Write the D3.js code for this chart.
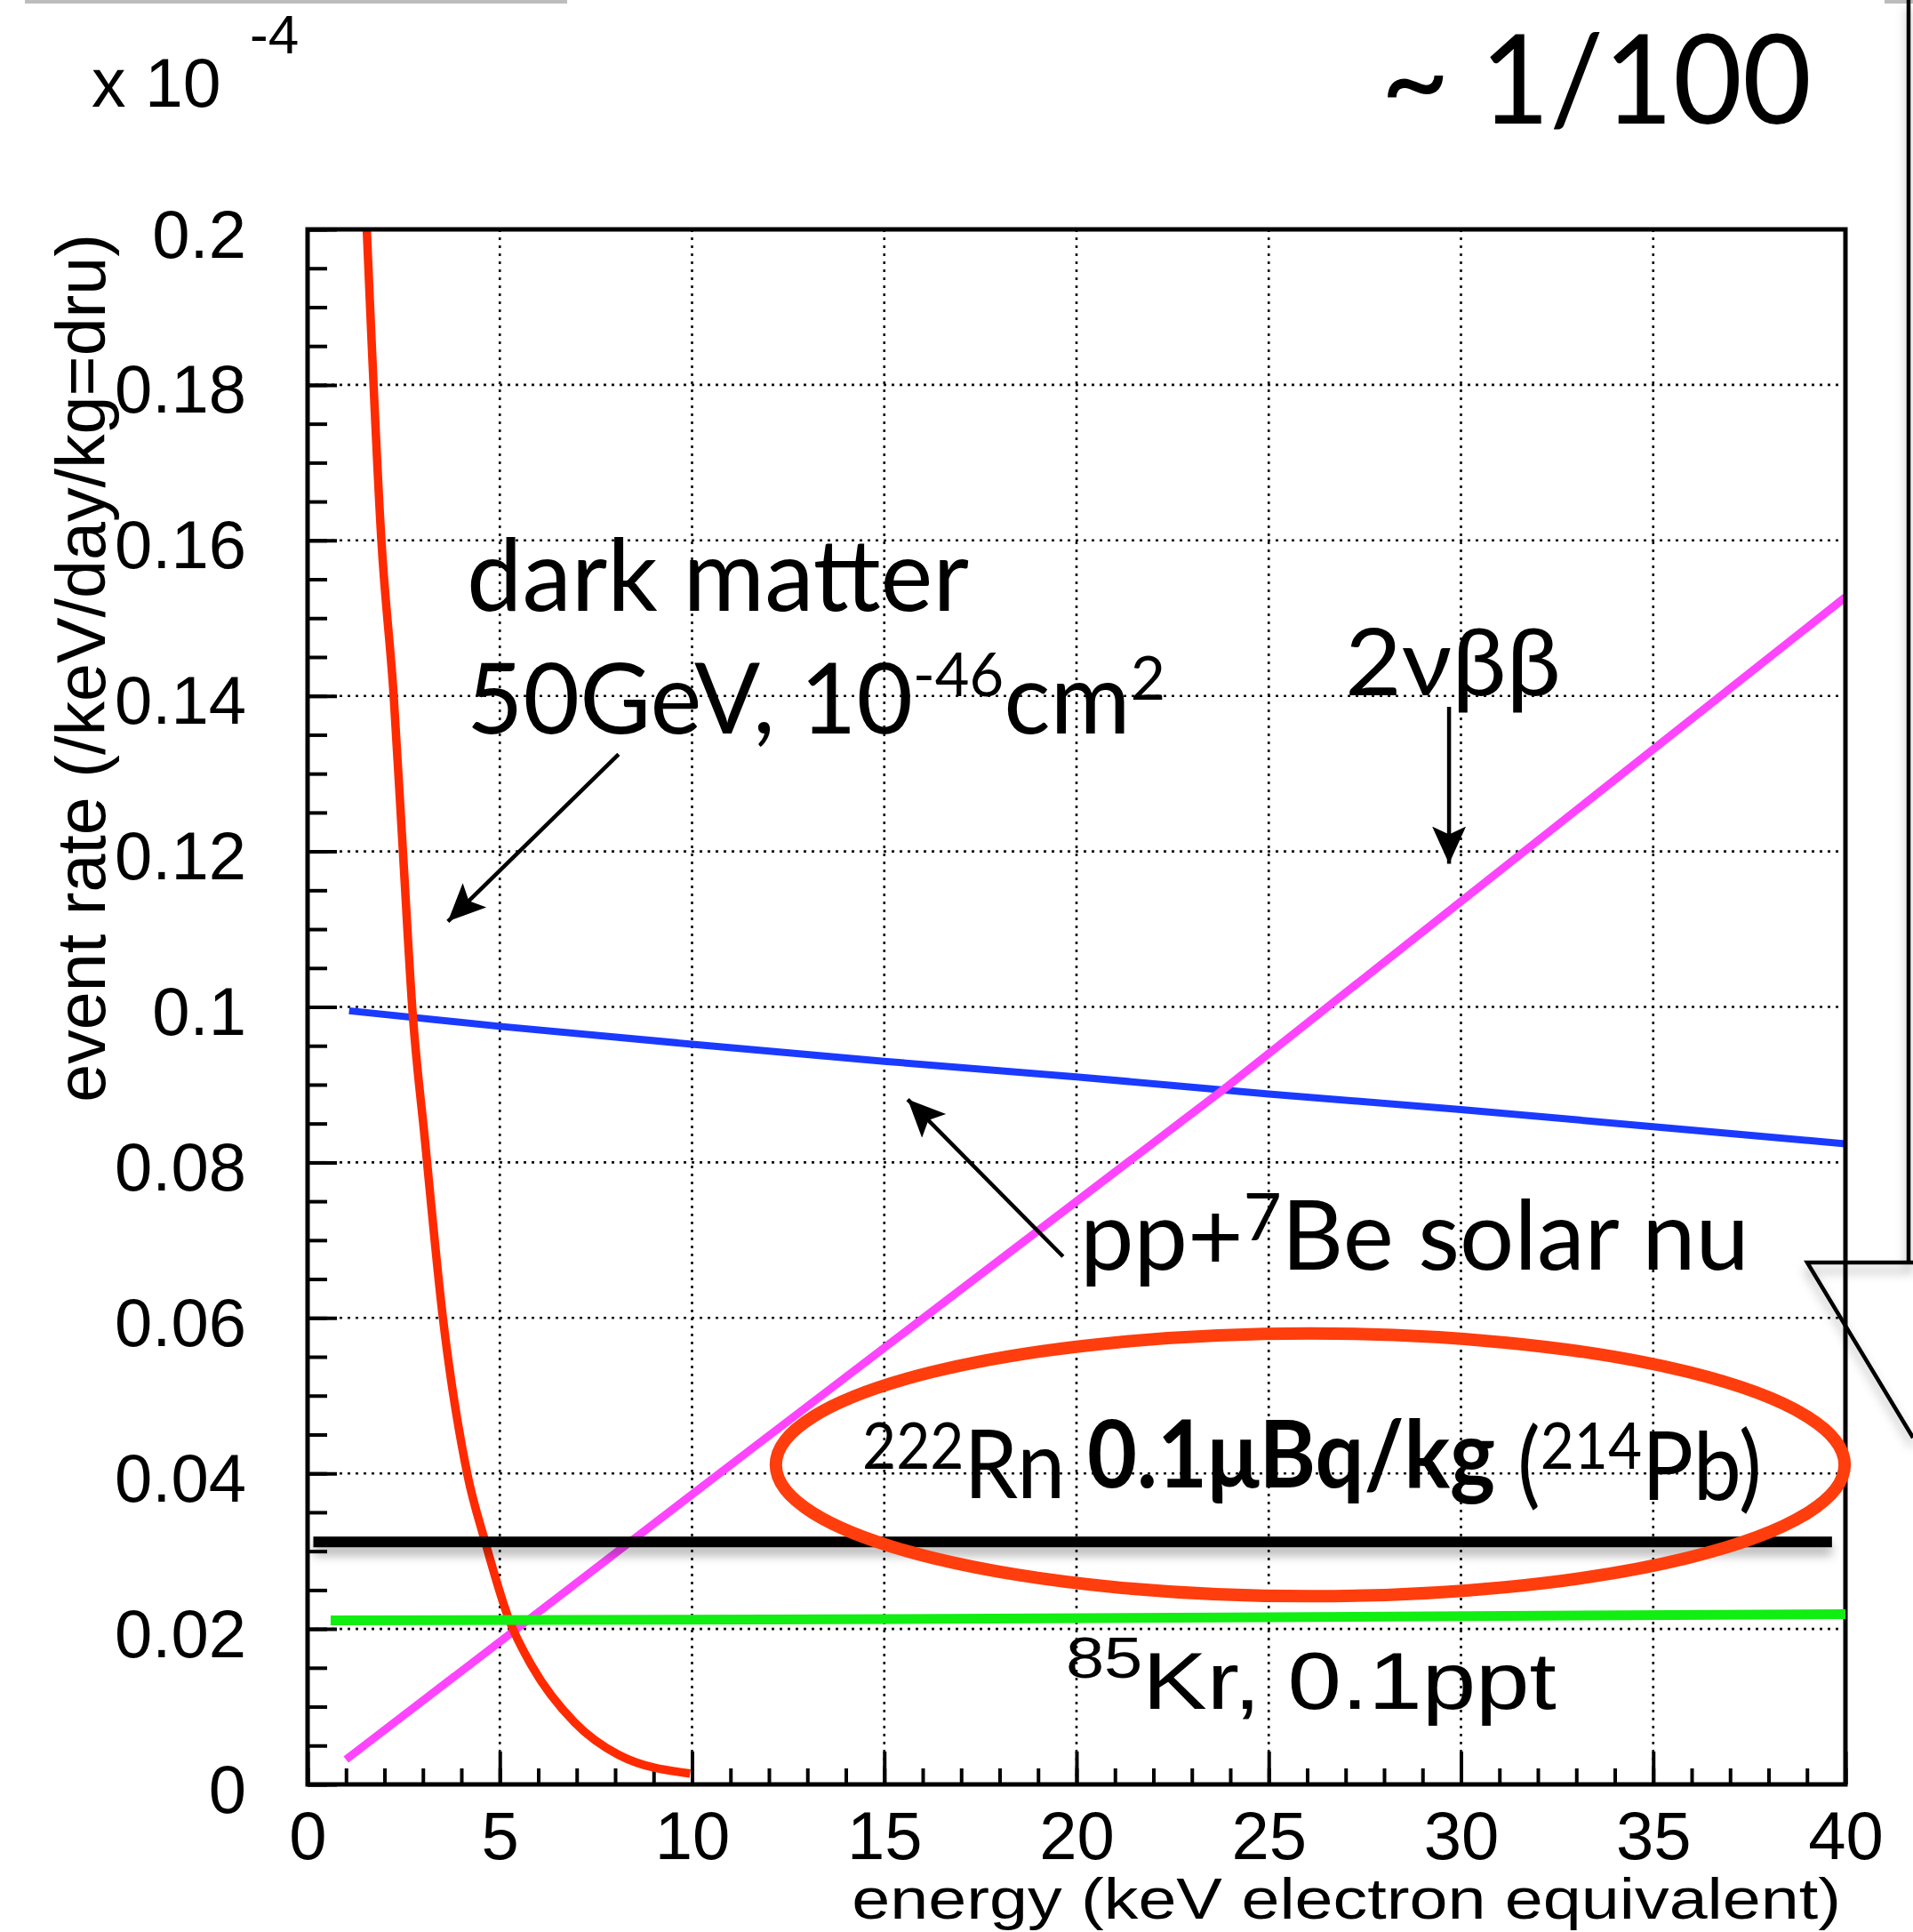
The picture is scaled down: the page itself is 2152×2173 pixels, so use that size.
<!DOCTYPE html>
<html><head><meta charset="utf-8">
<script src="https://cdn.jsdelivr.net/npm/d3@7"></script>
<style>
html,body{margin:0;padding:0;background:#fff;}
svg{display:block;}
</style></head><body>
<svg id="chart" width="2152" height="2173"></svg>
<script>
// ---------------- data ----------------
const xTicks = [0, 5, 10, 15, 20, 25, 30, 35, 40];
const xTickLabels = ["0", "5", "10", "15", "20", "25", "30", "35", "40"];
const yTicks = [0, 0.02, 0.04, 0.06, 0.08, 0.1, 0.12, 0.14, 0.16, 0.18, 0.2];
const yTickLabels = ["0", "0.02", "0.04", "0.06", "0.08", "0.1", "0.12", "0.14", "0.16", "0.18", "0.2"];

// dark matter 50GeV, 1e-46 cm2 (red)
const darkMatterE    = [1.54, 1.92, 2.24, 2.48, 2.73, 3.05, 3.52, 4.16, 4.62, 5.24, 5.85, 6.94, 8.09, 9.95];
const darkMatterRate = [0.2, 0.16, 0.14, 0.12, 0.0994, 0.083, 0.060, 0.0398, 0.0312, 0.0212, 0.0151, 0.008, 0.0038, 0.0014];
// pp + 7Be solar neutrinos (blue)
const solarE    = [1.08, 5, 10, 15, 20, 25, 30, 35, 40];
const solarRate = [0.0995, 0.0975, 0.0952, 0.093, 0.091, 0.0888, 0.0868, 0.0846, 0.0824];
// 2 nu beta beta (magenta)
const bbE    = [1.0, 11.56, 23.8, 40];
const bbRate = [0.0032, 0.0432, 0.0893, 0.1527];
// 222Rn 0.1 uBq/kg (black)
const rnE    = [0.15, 39.65];
const rnRate = [0.0312, 0.0312];
// 85Kr 0.1 ppt (green)
const krE    = [0.6, 12, 25, 40];
const krRate = [0.0211, 0.0212, 0.0215, 0.0219];

// annotation anchors (data units)
const dmLabel = {e: 4.14, r: 0.1509, r2: 0.1352};
const dmArrow = {e1: 8.09, r1: 0.1325, e2: 3.65, r2: 0.111};
const bbLabel = {e: 26.98, r: 0.1401};
const bbArrow = {e1: 29.69, r1: 0.1386, e2: 29.69, r2: 0.1184};
const ppLabel = {e: 20.09, r: 0.0662};
const ppArrow = {e1: 19.65, r1: 0.0679, e2: 15.61, r2: 0.0881};
const rnLabel = {e: 14.43, r: 0.0374};
const rnEllipse = {e: 26.08, r: 0.0411, de: 13.9, dr: 0.0169};
const krLabel = {e: 19.72, r: 0.0097};

// ---------------- layout ----------------
const frame = {left: 346, right: 2076, top: 258, bottom: 2007};
const svg = d3.select("#chart");
const x = d3.scaleLinear().domain([0, 40]).range([frame.left, frame.right]);
const y = d3.scaleLinear().domain([0, 0.2]).range([frame.bottom, frame.top]);

const defs = svg.append("defs");
defs.append("clipPath").attr("id", "plotClip").append("rect")
  .attr("x", frame.left).attr("y", frame.top)
  .attr("width", frame.right - frame.left).attr("height", frame.bottom - frame.top);
const sh = defs.append("filter").attr("id", "shadow").attr("filterUnits", "userSpaceOnUse")
  .attr("x", 0).attr("y", 0).attr("width", 2152).attr("height", 2173);
sh.append("feDropShadow").attr("dx", 0).attr("dy", 9).attr("stdDeviation", 6)
  .attr("flood-color", "#000").attr("flood-opacity", 0.3);
defs.append("marker").attr("id", "arrow").attr("markerUnits", "userSpaceOnUse")
  .attr("markerWidth", 44).attr("markerHeight", 40).attr("refX", 42).attr("refY", 20)
  .attr("orient", "auto")
  .append("path").attr("d", "M0,1 L42,20 L0,39 L9,20 Z").attr("fill", "#000");

const SANS = "'Liberation Sans', Arial, Helvetica, sans-serif";
const SLIDE = "Lato, 'Noto Sans', 'Open Sans', sans-serif";

function fit(sel, target, pivot) {
  const bb = sel.node().getBBox();
  const s = target / bb.width;
  const px = pivot === "end" ? bb.x + bb.width : bb.x;
  sel.attr("transform", `translate(${px},0) scale(${s},1) translate(${-px},0)`);
}

// decoration from the slide (outside plot)
svg.append("line").attr("x1", 28).attr("x2", 638).attr("y1", 2).attr("y2", 2)
  .attr("stroke", "#bdbdbd").attr("stroke-width", 4);
svg.append("line").attr("x1", 2120).attr("x2", 2152).attr("y1", 2).attr("y2", 2)
  .attr("stroke", "#bdbdbd").attr("stroke-width", 4);
svg.append("path").attr("d", "M2147,0 L2147,1420 L2033,1420 L2152,1617 M2147,1420 L2152,1420")
  .attr("fill", "none").attr("stroke", "#000").attr("stroke-width", 4.5)
  .attr("filter", "url(#shadow)");

// grid
const grid = svg.append("g").attr("stroke", "#111").attr("stroke-width", 2.6).attr("stroke-dasharray", "3 6");
grid.selectAll("line.v").data(xTicks.slice(1, -1)).join("line").attr("class", "v")
  .attr("x1", d => x(d)).attr("x2", d => x(d)).attr("y1", frame.top).attr("y2", frame.bottom);
grid.selectAll("line.h").data(yTicks.slice(1, -1)).join("line").attr("class", "h")
  .attr("y1", d => y(d)).attr("y2", d => y(d)).attr("x1", frame.left).attr("x2", frame.right);

// axes (ROOT style, ticks inside)
const xMinor = d3.range(0, 41, 1);
const yMinor = d3.range(0, 0.2001, 0.005);
const axX = svg.append("g").attr("transform", `translate(0,${frame.bottom})`)
  .call(d3.axisBottom(x).tickValues(xTicks).tickFormat((d, i) => xTickLabels[i]).tickSize(-37));
svg.append("g").attr("transform", `translate(0,${frame.bottom})`)
  .call(d3.axisBottom(x).tickValues(xMinor).tickFormat("").tickSize(-18))
  .select(".domain").remove();
const axY = svg.append("g").attr("transform", `translate(${frame.left},0)`)
  .call(d3.axisLeft(y).tickValues(yTicks).tickFormat((d, i) => yTickLabels[i]).tickSize(-33).tickPadding(69));
svg.append("g").attr("transform", `translate(${frame.left},0)`)
  .call(d3.axisLeft(y).tickValues(yMinor).tickFormat("").tickSize(-22))
  .select(".domain").remove();
[axX, axY].forEach(a => a.select(".domain").remove());
svg.selectAll(".tick line").attr("stroke", "#000").attr("stroke-width", 4);
axX.selectAll("text").attr("y", 84).attr("dy", 0)
  .attr("font-family", SANS).attr("font-size", 76).attr("fill", "#000");
axY.selectAll("text").attr("dy", 31)
  .attr("font-family", SANS).attr("font-size", 76).attr("fill", "#000");

// series
const line = d3.line().x(d => x(d[0])).y(d => y(d[1]));
const plot = svg.append("g").attr("clip-path", "url(#plotClip)").attr("fill", "none");
plot.append("path").datum(d3.zip(solarE, solarRate)).attr("d", line)
  .attr("stroke", "#1a3aff").attr("stroke-width", 8);
plot.append("path").datum(d3.zip(bbE, bbRate)).attr("d", line)
  .attr("stroke", "#ff44ff").attr("stroke-width", 9);
plot.append("path").datum(d3.zip(darkMatterE, darkMatterRate))
  .attr("d", line.curve(d3.curveMonotoneX))
  .attr("stroke", "#ff2a00").attr("stroke-width", 9.5);
line.curve(d3.curveLinear);

// frame
svg.append("rect").attr("x", frame.left).attr("y", frame.top)
  .attr("width", frame.right - frame.left).attr("height", frame.bottom - frame.top)
  .attr("fill", "none").attr("stroke", "#000").attr("stroke-width", 5);

// slide overlays: Rn (black) and Kr (green) levels
svg.append("path").datum(d3.zip(rnE, rnRate)).attr("d", line).attr("fill", "none")
  .attr("stroke", "#000").attr("stroke-width", 12).attr("filter", "url(#shadow)");
svg.append("path").datum(d3.zip(krE, krRate)).attr("d", line).attr("fill", "none")
  .attr("stroke", "#11ee11").attr("stroke-width", 11);

// ellipse around Rn label
svg.append("ellipse")
  .attr("cx", x(rnEllipse.e)).attr("cy", y(rnEllipse.r))
  .attr("rx", x(rnEllipse.e + rnEllipse.de) - x(rnEllipse.e))
  .attr("ry", y(rnEllipse.r) - y(rnEllipse.r + rnEllipse.dr))
  .attr("fill", "none").attr("stroke", "#ff3d0d").attr("stroke-width", 14);

// arrows
[dmArrow, bbArrow, ppArrow].forEach(a => {
  svg.append("line").attr("x1", x(a.e1)).attr("y1", y(a.r1)).attr("x2", x(a.e2)).attr("y2", y(a.r2))
    .attr("stroke", "#000").attr("stroke-width", 4.5).attr("marker-end", "url(#arrow)");
});

// ---------------- texts ----------------
// multiplier
svg.append("text").attr("x", 103).attr("y", 120).attr("font-family", SANS).attr("font-size", 77).text("x 10");
svg.append("text").attr("x", 281).attr("y", 60).attr("font-family", SANS).attr("font-size", 62).text("-4");

// ~1/100
const t100 = svg.append("text").attr("x", 1553).attr("y", 139).attr("font-family", SLIDE).attr("font-size", 140).text("~ 1/100");
fit(t100, 485);

// axis titles
const xt = svg.append("text").attr("x", 2071).attr("y", 2158).attr("text-anchor", "end")
  .attr("font-family", SANS).attr("font-size", 64).text("energy (keV electron equivalent)");
fit(xt, 1113, "end");
const ytg = svg.append("g").attr("transform", "translate(118,263) rotate(-90)");
const yt = ytg.append("text").attr("x", 0).attr("y", 0).attr("text-anchor", "end")
  .attr("font-family", SANS).attr("font-size", 77).text("event rate (/keV/day/kg=dru)");
fit(yt, 977, "end");

// dark matter
const dm1 = svg.append("text").attr("x", x(dmLabel.e)).attr("y", y(dmLabel.r))
  .attr("font-family", SLIDE).attr("font-size", 112).text("dark matter");
fit(dm1, 565);
const b2 = y(dmLabel.r2);
const dm2 = svg.append("text").attr("x", x(dmLabel.e)).attr("y", b2)
  .attr("font-family", SLIDE).attr("font-size", 110);
dm2.append("tspan").text("50GeV, 10");
dm2.append("tspan").attr("y", b2 - 42).attr("font-size", 67).text("-46");
dm2.append("tspan").attr("y", b2).text("cm");
dm2.append("tspan").attr("y", b2 - 38).attr("font-size", 68).text("2");
fit(dm2, 786);

// 2 nu beta beta
const bbt = svg.append("text").attr("x", x(bbLabel.e)).attr("y", y(bbLabel.r))
  .attr("font-family", SLIDE).attr("font-size", 105).text("2νββ");
fit(bbt, 243);

// pp + 7Be
const bp = y(ppLabel.r);
const ppt = svg.append("text").attr("x", x(ppLabel.e)).attr("y", bp)
  .attr("font-family", SLIDE).attr("font-size", 108);
ppt.append("tspan").text("pp+");
ppt.append("tspan").attr("y", bp - 33).attr("font-size", 74).text("7");
ppt.append("tspan").attr("y", bp).text("Be solar nu");
fit(ppt, 753);

// 222Rn
const br = y(rnLabel.r);
const rnt = svg.append("text").attr("x", x(rnLabel.e)).attr("y", br + 5)
  .attr("font-family", SLIDE).attr("font-size", 106);
rnt.append("tspan").attr("y", br - 28).attr("font-size", 72).text("222");
rnt.append("tspan").attr("y", br + 5).text("Rn ");
rnt.append("tspan").attr("y", br - 7).attr("font-weight", "bold").text("0.1μBq/kg");
rnt.append("tspan").attr("y", br + 3).text(" (");
rnt.append("tspan").attr("y", br - 28).attr("font-size", 72).text("214");
rnt.append("tspan").attr("y", br + 7).text("Pb)");
fit(rnt, 1012);

// 85Kr
const bk = y(krLabel.r);
const krt = svg.append("text").attr("x", x(krLabel.e)).attr("y", bk)
  .attr("font-family", SANS).attr("font-size", 91);
krt.append("tspan").attr("y", bk - 35).attr("font-size", 65).text("85");
krt.append("tspan").attr("y", bk).text("Kr, 0.1ppt");
fit(krt, 552);
</script>
</body></html>
